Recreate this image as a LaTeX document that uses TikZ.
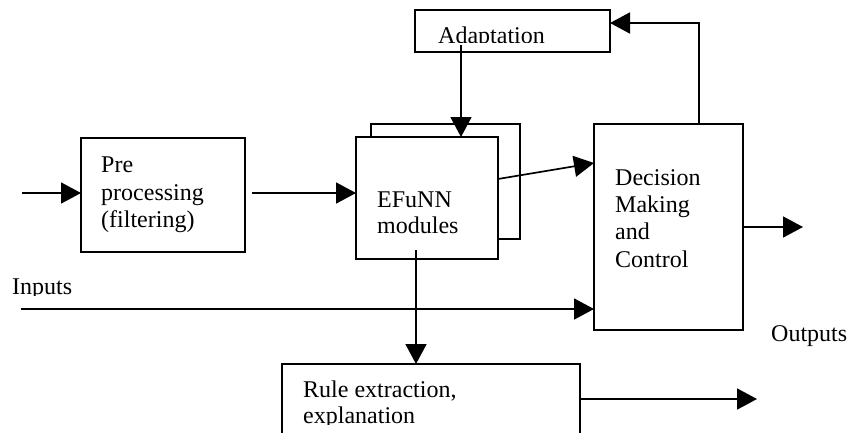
\documentclass[tikz,border=0pt]{standalone}
\usepackage{fontspec}
\setmainfont{Liberation Serif}
\usetikzlibrary{arrows.meta}
\begin{document}
\begin{tikzpicture}[x=1pt,y=-1pt,
  box/.style={draw,line width=1.7pt,rectangle,inner sep=0pt,outer sep=0pt,anchor=north west,fill=white},
  txt/.style={anchor=base west,inner sep=0pt,font=\fontsize{24}{27}\selectfont},
  arr/.style={line width=1.7pt,-{Triangle[length=20pt,width=21pt]}}]
\useasboundingbox (0,0) rectangle (848,432);
\clip (0,0) rectangle (848,432);
% boxes
\node[box,minimum width=195pt,minimum height=42pt] (adapt) at (415,10) {};
\node[box,minimum width=149pt,minimum height=115pt] (efb) at (371,124) {};
\node[box,minimum width=142pt,minimum height=122pt] (eff) at (356,137) {};
\node[box,minimum width=164pt,minimum height=114pt] (pre) at (81,138) {};
\node[box,minimum width=149pt,minimum height=206pt] (dec) at (594,124) {};
\node[box,minimum width=298pt,minimum height=90pt] (rule) at (282,364) {};
% texts
\begin{scope}
\clip (416,11) rectangle (609,42);
\node[txt] (tadapt) at (438,43) {Adaptation};
\end{scope}
\node[txt] (tpre1) at (101,172) {Pre};
\node[txt] (tpre2) at (101,200) {processing};
\node[txt] (tpre3) at (101,227) {(filtering)};
\node[txt] (tef1) at (377,207) {EFuNN};
\node[txt] (tef2) at (377,233) {modules};
\node[txt] (tdec1) at (615,185) {Decision};
\node[txt] (tdec2) at (615,212) {Making};
\node[txt] (tdec3) at (615,239) {and};
\node[txt] (tdec4) at (615,267) {Control};
\begin{scope}
\clip (0,260) rectangle (200,295);
\node[txt] (tin) at (12,294) {Inputs};
\end{scope}
\node[txt] (tout) at (771,341) {Outputs};
\node[txt] (trule1) at (303,397) {Rule extraction,};
\begin{scope}
\clip (283,405) rectangle (579,424);
\node[txt] (trule2) at (303,423.5) {explanation};
\end{scope}
% connector coordinates
\coordinate (inS) at (22,193);
\coordinate (p1) at (252,193);
\coordinate (a1) at (461,45);
\coordinate (e1) at (498,179);
\coordinate (d1) at (594,163);
\coordinate (inp) at (21,309);
\coordinate (e2) at (416,250);
\coordinate (o1) at (803,227);
\coordinate (o2) at (757,399);
\coordinate (fb) at (699,23);
% connectors
\draw[arr] (inS) -- (inS -| pre.west);
\draw[arr] (p1) -- (p1 -| eff.west);
\draw[arr] (a1) -- (a1 |- eff.north);
\draw[arr] (e1 -| eff.east) -- (d1 -| dec.west);
\draw[arr] (inp) -- (inp -| dec.west);
\draw[arr] (e2) -- (e2 |- rule.north);
\draw[arr] (o1 -| dec.east) -- (o1);
\draw[arr] (o2 -| rule.east) -- (o2);
\draw[arr] (fb |- dec.north) -- (fb) -- (fb -| adapt.east);
\end{tikzpicture}
\end{document}
